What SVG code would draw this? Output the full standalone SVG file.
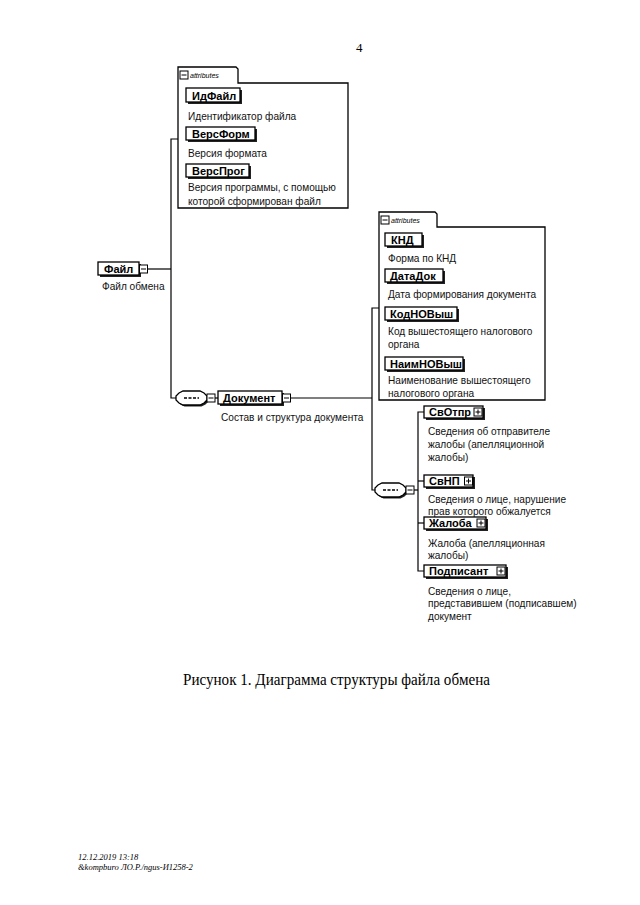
<svg xmlns="http://www.w3.org/2000/svg" width="640" height="905" viewBox="0 0 640 905">
<style>
.t{font-family:"Liberation Sans",Arial,sans-serif;font-size:10.1px;fill:#111}
.b{font-family:"Liberation Sans",Arial,sans-serif;font-size:11px;font-weight:bold;fill:#000}
.at{font-family:"Liberation Sans",Arial,sans-serif;font-size:7px;font-style:italic;fill:#000}
.ln{fill:none;stroke:#000;stroke-width:1.2}
.bx{fill:#fff;stroke:#000;stroke-width:1.3}
.sh{fill:#222}
.ic{fill:#fff;stroke:#000;stroke-width:1}
.ser{font-family:"Liberation Serif","Times New Roman",serif;fill:#000}
</style>
<defs>
<g id="minus"><rect class="ic" x="0" y="0" width="8" height="8"/><line x1="1.5" y1="4" x2="6.5" y2="4" stroke="#000" stroke-width="1"/></g>
<g id="plus"><rect class="ic" x="0" y="0" width="8" height="8"/><line x1="1.5" y1="4" x2="6.5" y2="4" stroke="#000" stroke-width="1"/><line x1="4" y1="1.5" x2="4" y2="6.5" stroke="#000" stroke-width="1"/></g>
<g id="seq"><path d="M3,2 L7,0 H24 L28,2 L31,5 V9 L28,12 L24,14 H7 L3,12 L0,9 V5 Z" fill="#222" transform="translate(1.5,1.5)"/><path class="bx" d="M3,2 L7,0 H24 L28,2 L31,5 V9 L28,12 L24,14 H7 L3,12 L0,9 V5 Z"/><line x1="8" y1="7" x2="23" y2="7" stroke="#000" stroke-width="1.4" stroke-dasharray="3,1.5"/></g>
</defs>

<text class="ser" x="356" y="52" font-size="13">4</text>

<g id="connectors">
<path class="ln" d="M148,269 H171"/>
<path class="ln" d="M178,139 H171 V398 H176"/>
<path class="ln" d="M208,398 H218"/>
<path class="ln" d="M290,398 H372"/>
<path class="ln" d="M379,308 H372 V490 H375"/>
<path class="ln" d="M406,490 H418"/>
<path class="ln" d="M424,412 H418 V571 H424"/>
<path class="ln" d="M418,481 H424"/>
<path class="ln" d="M418,523 H424"/>
</g>

<g id="attrs1">
<path class="bx" d="M178,208 V67 H236 L238,69 V83 H348 V208 Z"/>
<use href="#minus" x="180" y="71"/>
<text class="at" x="190" y="78">attributes</text>
</g>
<g id="IdFile"><rect class="sh" x="188" y="90" width="54" height="14"/><rect class="bx" x="186" y="88" width="54" height="14"/><text class="b" x="192" y="99.5">ИдФайл</text><text class="t" x="188" y="120">Идентификатор файла</text></g>
<g id="VersForm"><rect class="sh" x="188" y="129" width="69" height="13"/><rect class="bx" x="186" y="127" width="69" height="13"/><text class="b" x="192" y="138">ВерсФорм</text><text class="t" x="188" y="157">Версия формата</text></g>
<g id="VersProg"><rect class="sh" x="188" y="166" width="63" height="13"/><rect class="bx" x="186" y="164" width="63" height="13"/><text class="b" x="192" y="175">ВерсПрог</text><text class="t" x="188" y="191">Версия программы, с помощью</text><text class="t" x="188" y="205">которой сформирован файл</text></g>

<g id="File"><rect class="sh" x="100" y="264" width="41" height="13"/><rect class="bx" x="98" y="262" width="41" height="13"/><text class="b" x="104" y="272.5">Файл</text><use href="#minus" x="139.5" y="265"/><text class="t" x="102" y="290">Файл обмена</text></g>

<g id="seq1"><use href="#seq" x="176" y="391"/><use href="#minus" x="207" y="394"/></g>

<g id="Document"><rect class="sh" x="220" y="393" width="64" height="13"/><rect class="bx" x="218" y="391" width="64" height="13"/><text class="b" x="223" y="402">Документ</text><use href="#minus" x="282.5" y="394"/><text class="t" x="221" y="421">Состав и структура документа</text></g>

<g id="attrs2">
<path class="bx" d="M379,400 V212 H435 L437,214 V227 H545 V400 Z"/>
<use href="#minus" x="381" y="216"/>
<text class="at" x="391" y="223">attributes</text>
</g>
<g id="KND"><rect class="sh" x="387" y="235" width="37" height="13"/><rect class="bx" x="385" y="233" width="37" height="13"/><text class="b" x="391" y="244">КНД</text><text class="t" x="388" y="262">Форма по КНД</text></g>
<g id="DataDok"><rect class="sh" x="387" y="271" width="58" height="13"/><rect class="bx" x="385" y="269" width="58" height="13"/><text class="b" x="390" y="280">ДатаДок</text><text class="t" x="388" y="298">Дата формирования документа</text></g>
<g id="KodNOVysh"><rect class="sh" x="387" y="309" width="72" height="13"/><rect class="bx" x="385" y="307" width="72" height="13"/><text class="b" x="390" y="318">КодНОВыш</text><text class="t" x="388" y="335">Код вышестоящего налогового</text><text class="t" x="388" y="348">органа</text></g>
<g id="NaimNOVysh"><rect class="sh" x="387" y="359" width="78" height="13"/><rect class="bx" x="385" y="357" width="78" height="13"/><text class="b" x="390" y="368">НаимНОВыш</text><text class="t" x="388" y="384">Наименование вышестоящего</text><text class="t" x="388" y="397">налогового органа</text></g>

<g id="seq2"><use href="#seq" x="375" y="483"/><use href="#minus" x="406" y="486"/></g>

<g id="SvOtpr"><rect class="sh" x="426" y="408" width="59" height="12"/><rect class="bx" x="424" y="406" width="59" height="12"/><text class="b" x="429" y="416">СвОтпр</text><use href="#plus" x="474" y="408"/><text class="t" x="428" y="435">Сведения об отправителе</text><text class="t" x="428" y="448">жалобы (апелляционной</text><text class="t" x="428" y="461">жалобы)</text></g>
<g id="SvNP"><rect class="sh" x="426" y="477" width="49" height="12"/><rect class="bx" x="424" y="475" width="49" height="12"/><text class="b" x="429" y="485">СвНП</text><use href="#plus" x="464.5" y="477"/><text class="t" x="428" y="503">Сведения о лице, нарушение</text><text class="t" x="428" y="514.5">прав которого обжалуется</text></g>
<g id="Zhaloba"><rect class="sh" x="426" y="519" width="62" height="12"/><rect class="bx" x="424" y="517" width="62" height="12"/><text class="b" x="429" y="527">Жалоба</text><use href="#plus" x="477" y="519"/><text class="t" x="428" y="547">Жалоба (апелляционная</text><text class="t" x="428" y="559">жалобы)</text></g>
<g id="Podpisant"><rect class="sh" x="426" y="567" width="82" height="12"/><rect class="bx" x="424" y="565" width="82" height="12"/><text class="b" x="429" y="575">Подписант</text><use href="#plus" x="497" y="567"/><text class="t" x="428" y="595">Сведения о лице,</text><text class="t" x="428" y="607">представившем (подписавшем)</text><text class="t" x="428" y="620">документ</text></g>

<text class="ser" x="183" y="685" font-size="16" textLength="307" lengthAdjust="spacingAndGlyphs">Рисунок 1. Диаграмма структуры файла обмена</text>

<text class="ser" x="78" y="860" font-size="8.5" font-style="italic">12.12.2019 13:18</text>
<text class="ser" x="78" y="870" font-size="8.5" font-style="italic">&amp;kompburo ЛО.Р./ngus-И1258-2</text>
</svg>
